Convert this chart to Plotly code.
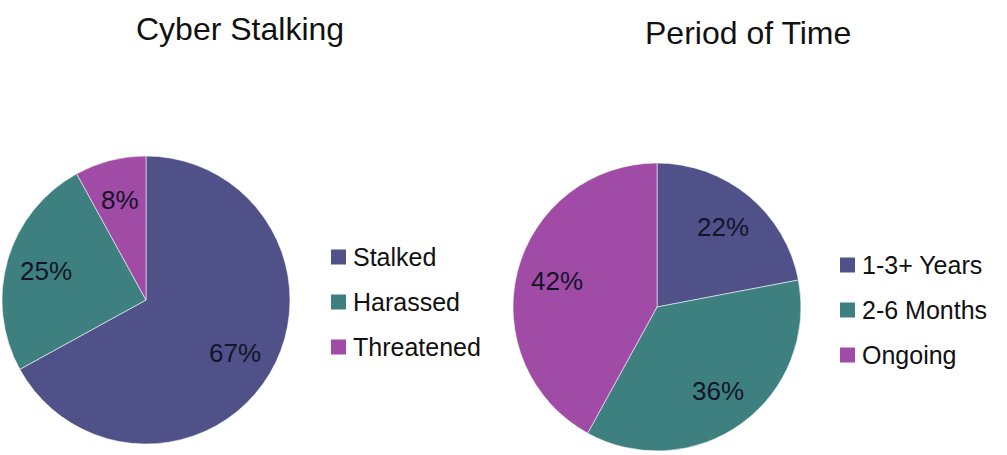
import math
import plotly.graph_objects as go

W, H = 1007, 455

# Chart data
stalk_labels = ["Stalked", "Harassed", "Threatened"]
stalk_values = [67, 25, 8]
time_labels = ["1-3+ Years", "2-6 Months", "Ongoing"]
time_values = [22, 36, 42]

colors = ["#51518A", "#3E8080", "#A04BA6"]
title_font = "Liberation Sans, Arial, sans-serif"
text_font = "Liberation Sans, Arial, sans-serif"


def px_x(x):
    return x / W


def px_y(y):
    return 1 - y / H


annotations = []
shapes = []


def pie(labels, values, cx, cy, r):
    # percentage labels sit on each slice's mid-angle at a fixed fraction of the radius
    total = sum(values)
    start = 0.0
    for v in values:
        mid = (start + v / 2) / total * 2 * math.pi
        start += v
        lx = cx + 0.72 * r * math.sin(mid)
        ly = cy - 0.72 * r * math.cos(mid)
        annotations.append(dict(text=f"{v}%", x=px_x(lx), y=px_y(ly), xref="paper", yref="paper",
                                showarrow=False, xanchor="center", yanchor="middle",
                                font=dict(family=text_font, size=26, color="#141428")))
    return go.Pie(
        labels=labels,
        values=values,
        sort=False,
        direction="clockwise",
        rotation=0,
        marker=dict(colors=colors, line=dict(color="rgba(255,255,255,0.55)", width=1)),
        textinfo="none",
        domain=dict(x=[px_x(cx - r), px_x(cx + r)], y=[px_y(cy + r), px_y(cy - r)]),
        showlegend=False,
        hoverinfo="label+percent",
    )


fig = go.Figure()
fig.add_trace(pie(stalk_labels, stalk_values, 146, 300, 144))
fig.add_trace(pie(time_labels, time_values, 657, 307, 144))

annotations += [
    dict(text="Cyber Stalking", x=px_x(240), y=px_y(29), xref="paper", yref="paper",
         showarrow=False, xanchor="center", yanchor="middle",
         font=dict(family=title_font, size=32, color="#111111")),
    dict(text="Period of Time", x=px_x(748), y=px_y(33), xref="paper", yref="paper",
         showarrow=False, xanchor="center", yanchor="middle",
         font=dict(family=title_font, size=32, color="#111111")),
]


def legend(labels, x0, y0, step):
    for i, (lab, col) in enumerate(zip(labels, colors)):
        yc = y0 + i * step
        shapes.append(dict(type="rect", xref="paper", yref="paper",
                           x0=px_x(x0), x1=px_x(x0 + 15),
                           y0=px_y(yc + 7.5), y1=px_y(yc - 7.5),
                           fillcolor=col, line=dict(width=0)))
        annotations.append(dict(text=lab, x=px_x(x0 + 20), y=px_y(yc), xref="paper", yref="paper",
                                showarrow=False, xanchor="left", yanchor="middle",
                                font=dict(family=text_font, size=25, color="#111111")))


legend(stalk_labels, 331, 257, 45)
legend(time_labels, 840, 265, 45)

fig.update_layout(
    width=W,
    height=H,
    margin=dict(l=0, r=0, t=0, b=0),
    paper_bgcolor="white",
    plot_bgcolor="white",
    annotations=annotations,
    shapes=shapes,
)

fig.write_html("out.html")
